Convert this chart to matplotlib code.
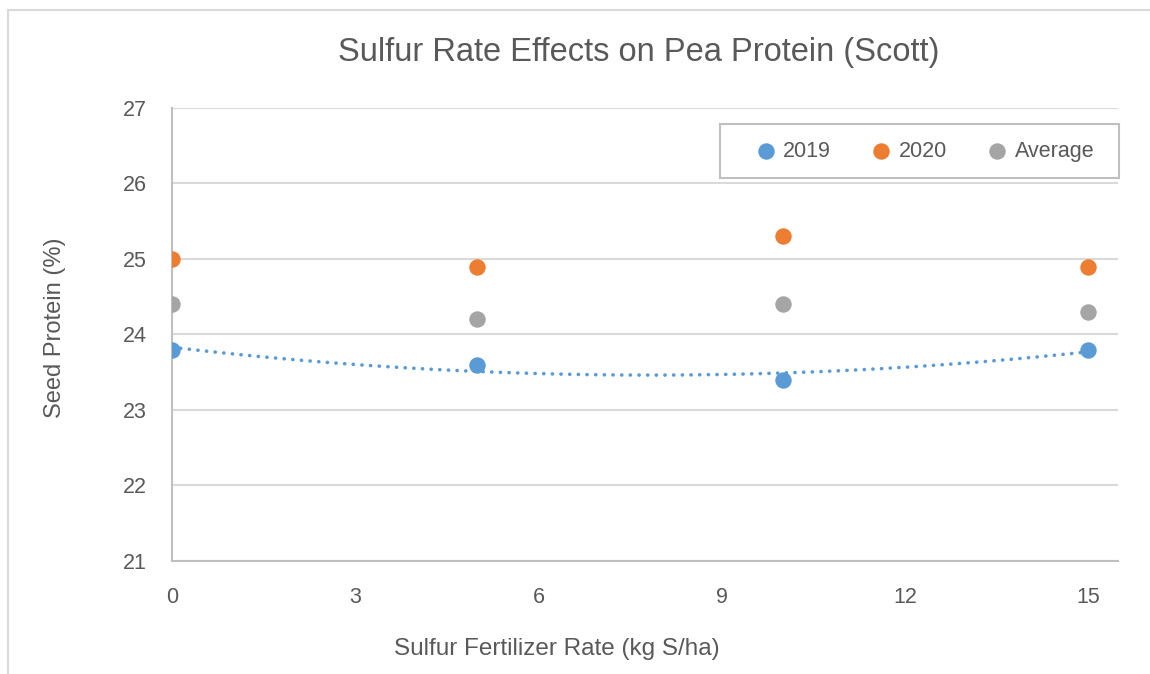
import matplotlib
matplotlib.use("Agg")
import matplotlib.pyplot as plt
import numpy as np
from matplotlib.patches import Rectangle

# --- DATA ---
RATE = [0, 5, 10, 15]                    # kg S/ha
Y2019 = [23.8, 23.6, 23.4, 23.8]
Y2020 = [25.0, 24.9, 25.3, 24.9]
YAVG = [24.4, 24.2, 24.4, 24.3]
XTICKS = [0, 3, 6, 9, 12, 15]
YTICKS = [21, 22, 23, 24, 25, 26, 27]

# --- STYLE ---
C19, C20, CAVG = "#5B9BD5", "#ED7D31", "#A5A5A5"
TXT = "#595959"
GRID = "#D9D9D9"
FONT = "Liberation Sans"


def main():
    plt.rcParams["font.family"] = [FONT, "DejaVu Sans"]
    fig = plt.figure(figsize=(11.5, 6.74), dpi=100)
    ax = fig.add_axes([0.1496, 0.1677, 0.8226, 0.6721])

    # outer chart frame
    fig.patches.append(Rectangle((8 / 1150, -0.01), 1.2, 1 - 10 / 674 + 0.01,
                                 transform=fig.transFigure, fill=False,
                                 ec="#D9D9D9", lw=1.5))

    # polynomial (order 2) trendline on 2019
    coef = np.polyfit(RATE, Y2019, 2)
    xs = np.linspace(RATE[0], RATE[-1], 200)
    ax.plot(xs, np.polyval(coef, xs), color=C19, lw=2.6, ls=(0, (0.05, 2.35)),
            dash_capstyle="round", zorder=3)

    ax.scatter(RATE, Y2019, s=140, color=C19, label="2019", zorder=4, lw=0)
    ax.scatter(RATE, Y2020, s=140, color=C20, label="2020", zorder=4, lw=0)
    ax.scatter(RATE, YAVG, s=140, color=CAVG, label="Average", zorder=4, lw=0)

    ax.set_xlim(0, 15.49)
    ax.set_ylim(21, 27)
    ax.set_xticks(XTICKS)
    ax.set_yticks(YTICKS)
    ax.tick_params(length=0, labelsize=15.5, colors=TXT)
    ax.tick_params(axis="x", pad=19)
    ax.tick_params(axis="y", pad=18)
    ax.grid(True, axis="y", color=GRID, lw=1.5)
    ax.set_axisbelow(True)
    for s in ("top", "right"):
        ax.spines[s].set_visible(False)
    for s in ("left", "bottom"):
        ax.spines[s].set_color("#BFBFBF")
        ax.spines[s].set_linewidth(1.5)

    fig.text(639 / 1150, 1 - 53 / 674, "Sulfur Rate Effects on Pea Protein (Scott)",
             ha="center", va="center", fontsize=23.5, color=TXT)
    fig.text(557 / 1150, 1 - 649 / 674, "Sulfur Fertilizer Rate (kg S/ha)",
             ha="center", va="center", fontsize=17.5, color=TXT)
    fig.text(55 / 1150, 1 - 328 / 674, "Seed Protein (%)", rotation=90,
             ha="center", va="center", fontsize=17, color=TXT)

    # legend box drawn separately so the padding matches the original
    ax.add_patch(Rectangle((0.579, 0.8455), 0.422, 0.119, transform=ax.transAxes,
                           fill=True, fc="white", ec="#BFBFBF", lw=1.5,
                           clip_on=False, zorder=5))
    leg = ax.legend(loc="center", bbox_to_anchor=(0.792, 0.905), ncol=3,
                    frameon=False, fontsize=15.5, handletextpad=0.0,
                    columnspacing=1.55, borderpad=0, markerscale=1.0,
                    borderaxespad=0, handlelength=1.6)
    leg.set_zorder(6)
    for t in leg.get_texts():
        t.set_color(TXT)

    fig.savefig("out.png", dpi=100)


if __name__ == "__main__":
    main()
